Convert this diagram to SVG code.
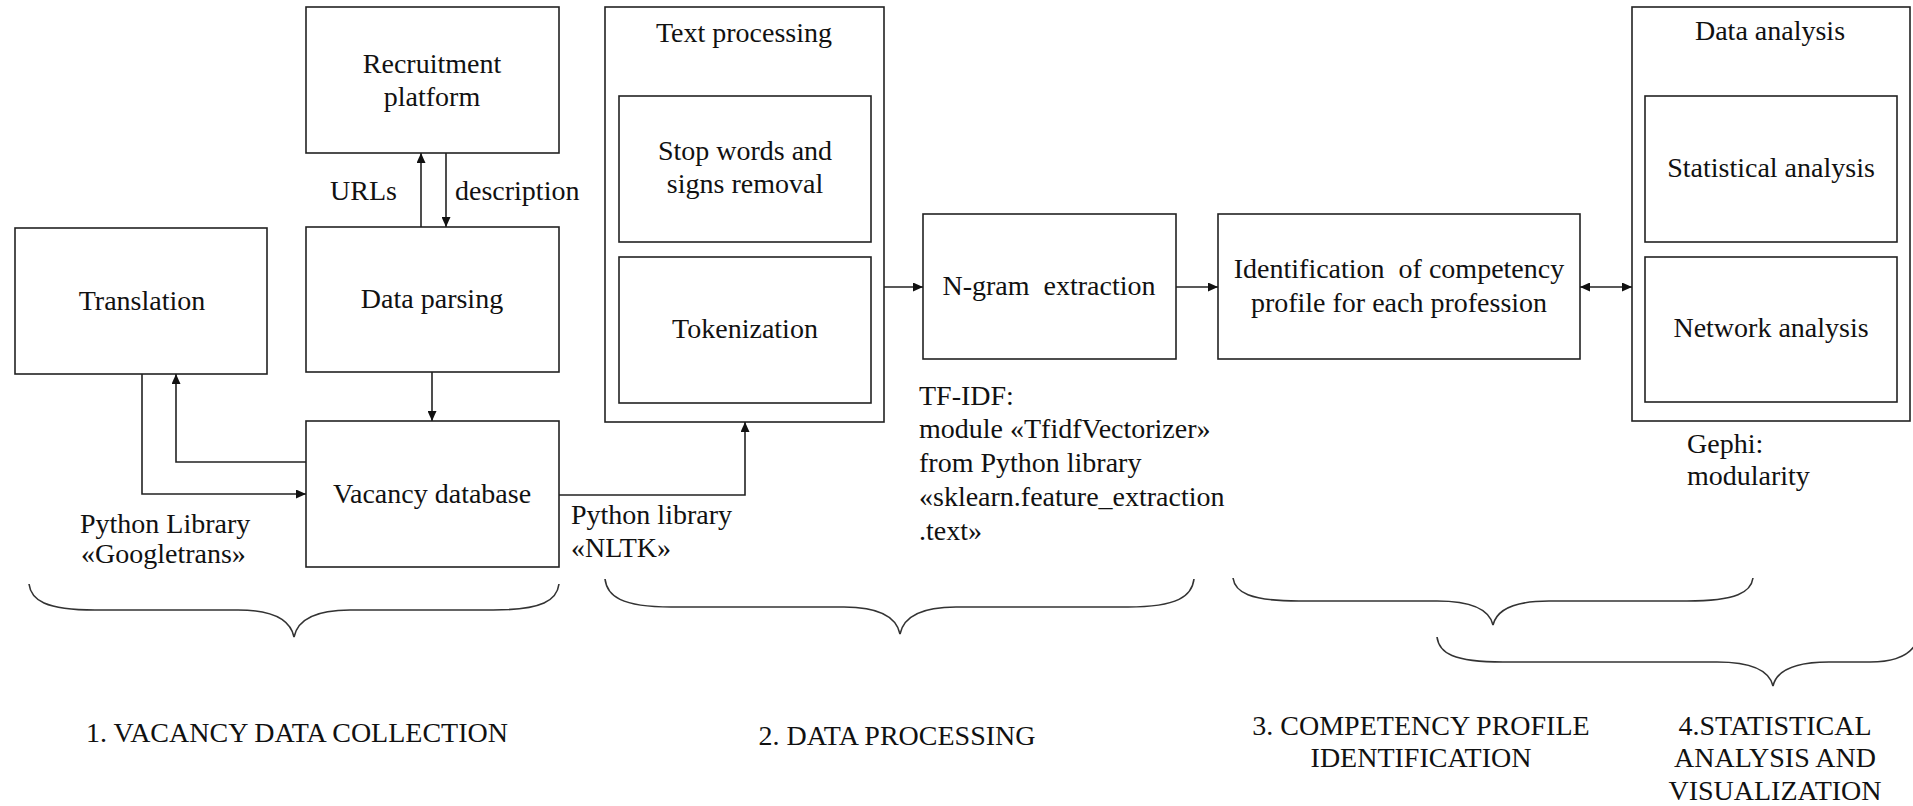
<svg xmlns="http://www.w3.org/2000/svg" width="1913" height="806" viewBox="0 0 1913 806">
<style>
text { font-family: "Liberation Serif", "Times New Roman", serif; font-size: 28px; fill: #111; }
.c { text-anchor: middle; }
.box { fill: #fff; stroke: #222; stroke-width: 1.6; }
.ln { fill: none; stroke: #222; stroke-width: 1.6; }
.brace { fill: none; stroke: #333; stroke-width: 1.6; }
</style>
<defs>
<marker id="ah" viewBox="0 0 10 9" refX="10" refY="4.5" markerWidth="10" markerHeight="9" markerUnits="userSpaceOnUse" orient="auto-start-reverse">
<path d="M0,0 L10,4.5 L0,9 z" fill="#111"/>
</marker>
</defs>
<rect width="1913" height="806" fill="#fff"/>

<g id="recruitment-platform">
<rect class="box" x="306" y="7" width="253" height="146"/>
<text class="c" x="432" y="73">Recruitment</text>
<text class="c" x="432" y="106">platform</text>
</g>
<g id="data-parsing">
<rect class="box" x="306" y="227" width="253" height="145"/>
<text class="c" x="432" y="308">Data parsing</text>
</g>
<g id="translation">
<rect class="box" x="15" y="228" width="252" height="146"/>
<text class="c" x="142" y="310">Translation</text>
</g>
<g id="vacancy-database">
<rect class="box" x="306" y="421" width="253" height="146"/>
<text class="c" x="432" y="503">Vacancy database</text>
</g>
<g id="text-processing">
<rect class="box" x="605" y="7" width="279" height="415"/>
<text class="c" x="744" y="42">Text processing</text>
</g>
<g id="stop-words">
<rect class="box" x="619" y="96" width="252" height="146"/>
<text class="c" x="745" y="160">Stop words and</text>
<text class="c" x="745" y="193">signs removal</text>
</g>
<g id="tokenization">
<rect class="box" x="619" y="257" width="252" height="146"/>
<text class="c" x="745" y="338">Tokenization</text>
</g>
<g id="ngram-extraction">
<rect class="box" x="923" y="214" width="253" height="145"/>
<text class="c" x="1049" y="295" xml:space="preserve">N-gram  extraction</text>
</g>
<g id="identification">
<rect class="box" x="1218" y="214" width="362" height="145"/>
<text class="c" x="1399" y="278" xml:space="preserve">Identification  of competency</text>
<text class="c" x="1399" y="312">profile for each profession</text>
</g>
<g id="data-analysis">
<rect class="box" x="1632" y="7" width="278" height="414"/>
<text class="c" x="1770" y="40">Data analysis</text>
</g>
<g id="statistical-analysis">
<rect class="box" x="1645" y="96" width="252" height="146"/>
<text class="c" x="1771" y="177">Statistical analysis</text>
</g>
<g id="network-analysis">
<rect class="box" x="1645" y="257" width="252" height="145"/>
<text class="c" x="1771" y="337">Network analysis</text>
</g>

<g id="connectors">
<path class="ln" d="M421,227 L421,153" marker-end="url(#ah)"/>
<path class="ln" d="M446,153 L446,227" marker-end="url(#ah)"/>
<path class="ln" d="M432,372 L432,421" marker-end="url(#ah)"/>
<path class="ln" d="M306,462 L176,462 L176,374" marker-end="url(#ah)"/>
<path class="ln" d="M142,374 L142,494 L306,494" marker-end="url(#ah)"/>
<path class="ln" d="M559,495 L745,495 L745,422" marker-end="url(#ah)"/>
<path class="ln" d="M884,287 L923,287" marker-end="url(#ah)"/>
<path class="ln" d="M1176,287 L1218,287" marker-end="url(#ah)"/>
<path class="ln" d="M1580,287 L1632,287" marker-start="url(#ah)" marker-end="url(#ah)"/>
</g>

<g id="labels">
<text x="330" y="200">URLs</text>
<text x="455" y="200">description</text>
<text x="80" y="533">Python Library</text>
<text x="81" y="563">«Googletrans»</text>
<text x="571" y="524">Python library</text>
<text x="571" y="557">«NLTK»</text>
<text x="919" y="405">TF-IDF:</text>
<text x="919" y="438">module «TfidfVectorizer»</text>
<text x="919" y="472">from Python library</text>
<text x="919" y="506">«sklearn.feature_extraction</text>
<text x="919" y="540">.text»</text>
<text x="1687" y="453">Gephi:</text>
<text x="1687" y="485">modularity</text>
</g>

<g id="braces">
<path class="brace" d="M29,584 C31,600 45,610 95,610 L238,610 C270,610 290,618 294,637 C298,618 318,610 350,610 L493,610 C543,610 557,600 559,584"/>
<path class="brace" d="M605,579 C607,596 621,607 671,607 L844,607 C876,607 896,615 900,634 C904,615 924,607 956,607 L1128,607 C1178,607 1192,596 1194,579"/>
<path class="brace" d="M1233,578 C1235,592 1249,601 1299,601 L1437,601 C1469,601 1489,608 1493,625 C1497,608 1517,601 1549,601 L1687,601 C1737,601 1751,592 1753,578"/>
<path class="brace" d="M1437,637 C1439,653 1453,662 1503,662 L1717,662 C1749,662 1769,669 1773,686 C1777,669 1797,662 1829,662 L1870,662 C1895,662 1908,656 1915,645"/>
</g>

<g id="stage-labels">
<text class="c" x="297" y="742">1. VACANCY DATA COLLECTION</text>
<text class="c" x="897" y="745">2. DATA PROCESSING</text>
<text class="c" x="1421" y="735">3. COMPETENCY PROFILE</text>
<text class="c" x="1421" y="767">IDENTIFICATION</text>
<text class="c" x="1775" y="735">4.STATISTICAL</text>
<text class="c" x="1775" y="767">ANALYSIS AND</text>
<text class="c" x="1775" y="800">VISUALIZATION</text>
</g>
</svg>
